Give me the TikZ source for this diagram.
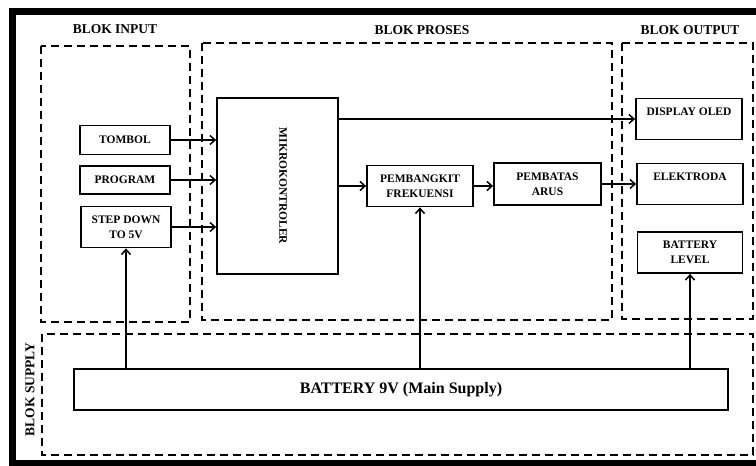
\documentclass[tikz,border=0pt]{standalone}
\usepackage{fontspec}
\setmainfont{Liberation Serif}
\usetikzlibrary{arrows.meta}

\begin{document}
\begin{tikzpicture}[x=1pt, y=-1pt,
    >={Straight Barb[length=5pt,width=9pt,line width=1.5pt]},
    box/.style={draw, line width=1.8pt, align=center, inner sep=0pt,
      font=\fontsize{11.5}{15}\selectfont\bfseries},
    topbox/.style={box, text depth=14pt},
    group/.style={line width=1.8pt, dash pattern=on 8pt off 5pt},
    title/.style={font=\fontsize{13.5}{16}\selectfont\bfseries},
    link/.style={->, line width=1.8pt}]

  \useasboundingbox (0,0) rectangle (756,466);

  % ============================================================
  % Rand en groepen
  % ============================================================

  \draw[line width=7pt] (12.5,11.5) rectangle (780,463);

  \draw[group] (41,46) rectangle (190,322);
  \draw[group] (202,43) rectangle (612,320);
  \draw[group] (622,43) rectangle (753,319);
  \draw[group] (42,334) rectangle (753,455);

  \node[title] (tinput) at (115,29) {BLOK INPUT};
  \node[title] (tproses) at (422,30) {BLOK PROSES};
  \node[title] (toutput) at (690,30) {BLOK OUTPUT};
  \node[title, rotate=90] (tsupply) at (30,389.5) {BLOK SUPPLY};

  % ============================================================
  % Input
  % ============================================================

  \node[box, minimum width=90pt, minimum height=29pt] (tombol)
    at (125,140) {TOMBOL};
  \node[box, minimum width=90pt, minimum height=28pt] (program)
    at (125,180) {PROGRAM};
  \node[box, minimum width=90pt, minimum height=41pt] (stepdown)
    at (126,227) {STEP DOWN\\TO 5V};

  % ============================================================
  % Proses
  % ============================================================

  \node[box, minimum width=121pt, minimum height=176pt] (mcu)
    at (277.5,186) {};
  \node[font=\fontsize{11.5}{15}\selectfont\bfseries, rotate=-90] (mcutext)
    at (283,186) {MIKROKONTROLER};

  \node[box, minimum width=106pt, minimum height=41pt] (pembangkit)
    at (420,186) {PEMBANGKIT\\FREKUENSI};
  \node[box, minimum width=107pt, minimum height=42pt] (pembatas)
    at (547.5,184) {PEMBATAS\\ARUS};

  % ============================================================
  % Output
  % ============================================================

  \node[topbox, minimum width=106pt, minimum height=41pt] (display)
    at (689,119) {DISPLAY OLED};
  \node[topbox, minimum width=106pt, minimum height=41pt] (elektroda)
    at (690,184) {ELEKTRODA};
  \node[box, minimum width=105pt, minimum height=41pt] (batlevel)
    at (690,252.5) {BATTERY\\LEVEL};

  % ============================================================
  % Supply
  % ============================================================

  \node[box, minimum width=654pt, minimum height=41pt,
    font=\fontsize{16}{19}\selectfont\bfseries] (battery)
    at (401,389.5) {BATTERY 9V (Main Supply)};

  % Verbindingen
  \draw[link] (tombol.east) -- (tombol.east -| mcu.west);
  \draw[link] (program.east) -- (program.east -| mcu.west);
  \draw[link] (stepdown.east) -- (stepdown.east -| mcu.west);

  \draw[link] (display.west -| mcu.east) -- (display.west);
  \draw[link] (pembangkit.west -| mcu.east) -- (pembangkit.west);
  \draw[link] (pembangkit.east) -- (pembangkit.east -| pembatas.west);
  \draw[link] (pembatas.east) -- (pembatas.east -| elektroda.west);

  \draw[link] (stepdown.south |- battery.north) -- (stepdown.south);
  \draw[link] (pembangkit.south |- battery.north) -- (pembangkit.south);
  \draw[link] (batlevel.south |- battery.north) -- (batlevel.south);

\end{tikzpicture}
\end{document}
